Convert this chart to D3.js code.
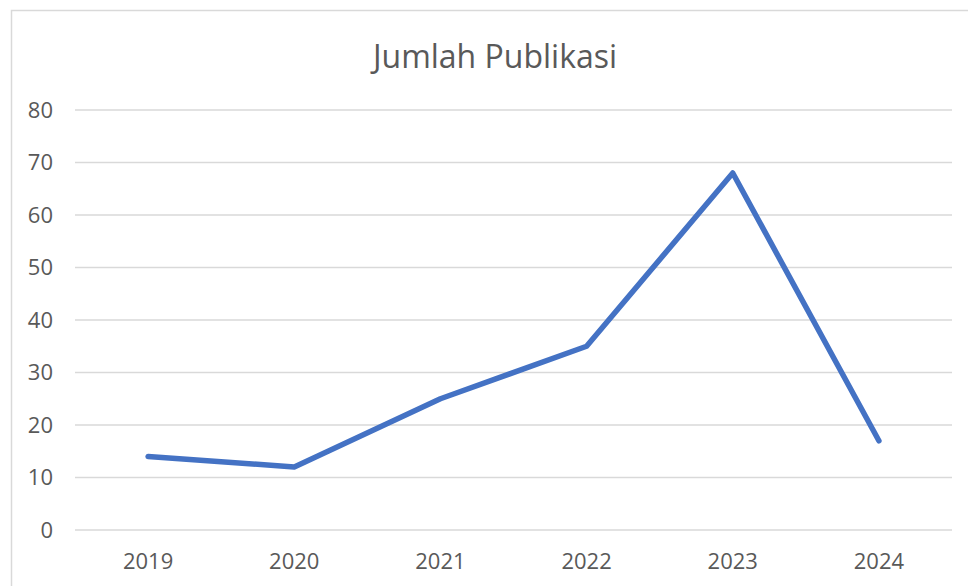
<!DOCTYPE html>
<html>
<head>
<meta charset="utf-8">
<script src="https://cdn.jsdelivr.net/npm/d3@7"></script>
<style>
  body { margin: 0; background: #fff; }
  text { font-family: "Open Sans", sans-serif; fill: #595959; }
</style>
</head>
<body>
<script>
const years = ["2019", "2020", "2021", "2022", "2023", "2024"];
const counts = [14, 12, 25, 35, 68, 17];
const yTicks = [0, 10, 20, 30, 40, 50, 60, 70, 80];

const W = 968, H = 586;
const m = {top: 110, bottom: 56, left: 75, right: 16};
const w = W - m.left - m.right;
const h = H - m.top - m.bottom;

const svg = d3.select("body")
    .append("svg")
    .attr("width", W)
    .attr("height", H);

// chart frame
svg.append("rect")
    .attr("x", 11.5)
    .attr("y", 10.5)
    .attr("width", W)
    .attr("height", H)
    .attr("fill", "none")
    .attr("stroke", "#d9d9d9")
    .attr("stroke-width", 1.5);

svg.append("text")
    .attr("x", 495)
    .attr("y", 68)
    .attr("text-anchor", "middle")
    .style("font-size", "32px")
    .text("Jumlah Publikasi");

const g = svg.append("g")
    .attr("transform", `translate(${m.left}, ${m.top})`);

const x = d3.scaleBand().domain(years).range([0, w]);
const y = d3.scaleLinear().domain([0, 80]).range([h, 0]);

g.selectAll(".grid")
    .data(yTicks)
    .enter()
    .append("line")
    .attr("x1", 0)
    .attr("x2", w)
    .attr("y1", d => y(d))
    .attr("y2", d => y(d))
    .attr("stroke", "#d9d9d9")
    .attr("stroke-width", 1.5);

const yAxis = g.append("g")
    .call(d3.axisLeft(y).tickValues(yTicks).tickSize(0).tickPadding(22));
yAxis.select(".domain").remove();
yAxis.selectAll("text").style("font-size", "22px").attr("fill", "#595959");

const xAxis = g.append("g")
    .attr("transform", `translate(0, ${h})`)
    .call(d3.axisBottom(x).tickSize(0).tickPadding(23));
xAxis.select(".domain").remove();
xAxis.selectAll("text").style("font-size", "22px").attr("fill", "#595959");

const line = d3.line()
    .x((d, i) => x(years[i]) + x.bandwidth() / 2)
    .y(d => y(d));

g.append("path")
    .datum(counts)
    .attr("d", line)
    .attr("fill", "none")
    .attr("stroke", "#4472c4")
    .attr("stroke-width", 5.5)
    .attr("stroke-linecap", "round")
    .attr("stroke-linejoin", "round");
</script>
</body>
</html>
